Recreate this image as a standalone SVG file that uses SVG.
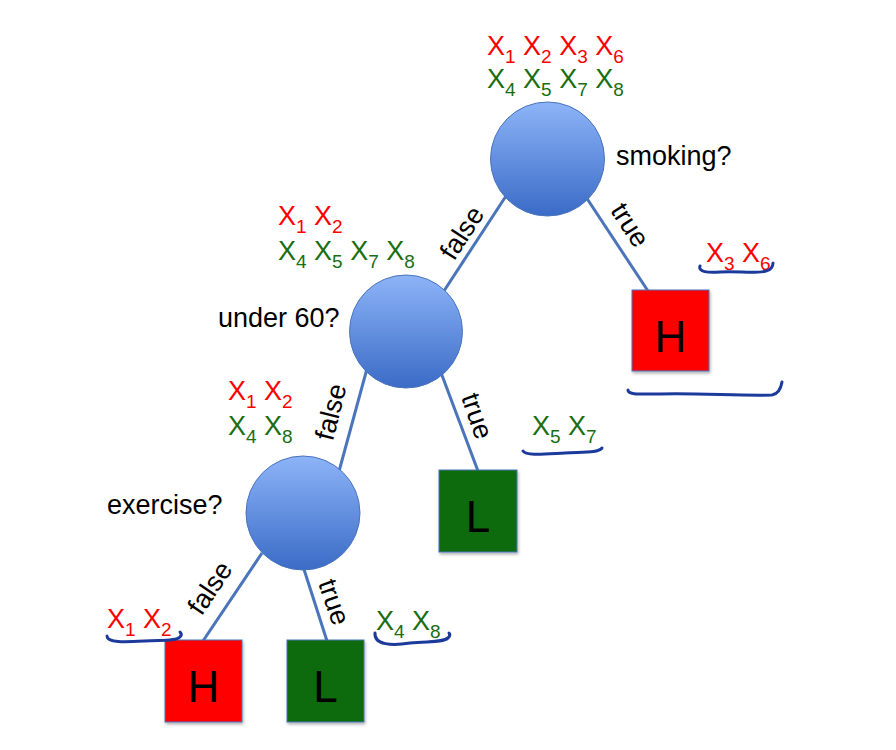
<svg xmlns="http://www.w3.org/2000/svg" width="896" height="750" viewBox="0 0 896 750">
<defs>
<linearGradient id="ball" x1="0" y1="0" x2="0" y2="1">
<stop offset="0" stop-color="#8db4f8"/>
<stop offset="1" stop-color="#3a6bc6"/>
</linearGradient>
<filter id="sh" x="-20%" y="-20%" width="150%" height="150%">
<feDropShadow dx="1" dy="2" stdDeviation="1.5" flood-color="#000" flood-opacity="0.3"/>
</filter>
<style>
.edge{stroke:#4a75bb;stroke-width:3;fill:none}
.ball{fill:url(#ball);stroke:#4a74bd;stroke-width:1}
.sq{stroke:#4a74bd;stroke-width:1}
.lab{font-family:"Liberation Sans",Arial,sans-serif;font-size:27px;fill:#000}
.el{font-family:"Liberation Sans",Arial,sans-serif;font-size:27px;fill:#000;text-anchor:middle;dominant-baseline:central}
.leaf{font-family:"Liberation Sans",Arial,sans-serif;font-size:44px;fill:#000;text-anchor:middle}
.x{font-family:"Liberation Sans",Arial,sans-serif;font-size:27px}
.s{font-size:19px}
.r{fill:#ff0000}
.g{fill:#1a6e12}
.brace{stroke:#1c3a9c;stroke-width:3;fill:none;stroke-linecap:round;stroke-linejoin:round}
</style>
</defs>
<rect width="896" height="750" fill="#fff"/>
<g id="connectors">
<line class="edge" x1="584" y1="194" x2="648" y2="291"/>
<line class="edge" x1="506" y1="196" x2="440" y2="297"/>
<line class="edge" x1="440" y1="370" x2="478" y2="471"/>
<line class="edge" x1="368" y1="365" x2="338" y2="475"/>
<line class="edge" x1="262" y1="553" x2="203" y2="641"/>
<line class="edge" x1="301" y1="560" x2="327" y2="641"/>
<text class="el" transform="translate(462,233) rotate(-57)">false</text>
<text class="el" transform="translate(630,225) rotate(57)">true</text>
<text class="el" transform="translate(331,412) rotate(-76)">false</text>
<text class="el" transform="translate(477,416) rotate(71)">true</text>
<text class="el" transform="translate(210,588) rotate(-56)">false</text>
<text class="el" transform="translate(334,602) rotate(71)">true</text>
</g>
<g id="node-smoking">
<circle class="ball" cx="547.5" cy="159" r="57"/>
<text class="lab" x="616" y="165">smoking?</text>
<text class="x r" x="487" y="55">X<tspan class="s" dy="8">1</tspan><tspan dy="-8"> X</tspan><tspan class="s" dy="8">2</tspan><tspan dy="-8"> X</tspan><tspan class="s" dy="8">3</tspan><tspan dy="-8"> X</tspan><tspan class="s" dy="8">6</tspan></text>
<text class="x g" x="487" y="88">X<tspan class="s" dy="8">4</tspan><tspan dy="-8"> X</tspan><tspan class="s" dy="8">5</tspan><tspan dy="-8"> X</tspan><tspan class="s" dy="8">7</tspan><tspan dy="-8"> X</tspan><tspan class="s" dy="8">8</tspan></text>
</g>
<g id="node-under60">
<circle class="ball" cx="406" cy="331.5" r="56.5"/>
<text class="lab" x="218" y="327">under 60?</text>
<text class="x r" x="278" y="225">X<tspan class="s" dy="8">1</tspan><tspan dy="-8"> X</tspan><tspan class="s" dy="8">2</tspan></text>
<text class="x g" x="278" y="260">X<tspan class="s" dy="8">4</tspan><tspan dy="-8"> X</tspan><tspan class="s" dy="8">5</tspan><tspan dy="-8"> X</tspan><tspan class="s" dy="8">7</tspan><tspan dy="-8"> X</tspan><tspan class="s" dy="8">8</tspan></text>
</g>
<g id="node-exercise">
<circle class="ball" cx="303" cy="513" r="57"/>
<text class="lab" x="107" y="514">exercise?</text>
<text class="x r" x="228" y="400">X<tspan class="s" dy="8">1</tspan><tspan dy="-8"> X</tspan><tspan class="s" dy="8">2</tspan></text>
<text class="x g" x="228" y="435">X<tspan class="s" dy="8">4</tspan><tspan dy="-8"> X</tspan><tspan class="s" dy="8">8</tspan></text>
</g>
<g id="leaf-H-right">
<rect class="sq" x="632" y="290" width="77" height="81" fill="#ff0000" filter="url(#sh)"/>
<text class="leaf" x="670.5" y="352">H</text>
<text class="x r" x="706" y="262">X<tspan class="s" dy="8">3</tspan><tspan dy="-8"> X</tspan><tspan class="s" dy="8">6</tspan></text>
<path class="brace" d="M700,266 C698,272 708,273 720,272 C740,271 755,274 766,271 C771,270 773,266 773,263"/>
<path class="brace" d="M628,390 C628,395 640,394 660,394 C700,393 740,396 772,395 C778,394 781,388 782,382"/>
</g>
<g id="leaf-L-middle">
<rect class="sq" x="439" y="470" width="78" height="82" fill="#0f6a0a" filter="url(#sh)"/>
<text class="leaf" x="478" y="532">L</text>
<text class="x g" x="532" y="435">X<tspan class="s" dy="8">5</tspan><tspan dy="-8"> X</tspan><tspan class="s" dy="8">7</tspan></text>
<path class="brace" d="M523,451 C526,456 545,454 565,453 C585,452 598,453 602,448"/>
</g>
<g id="leaf-H-bottom">
<rect class="sq" x="165" y="640" width="77" height="82" fill="#ff0000" filter="url(#sh)"/>
<text class="leaf" x="203.5" y="702">H</text>
<text class="x r" x="107" y="628">X<tspan class="s" dy="8">1</tspan><tspan dy="-8"> X</tspan><tspan class="s" dy="8">2</tspan></text>
<path class="brace" d="M107,636 C107,643 125,642 145,641 C165,640 176,641 180,637 C182,635 181,633 180,632"/>
</g>
<g id="leaf-L-bottom">
<rect class="sq" x="287" y="640" width="77" height="82" fill="#0f6a0a" filter="url(#sh)"/>
<text class="leaf" x="325.5" y="702">L</text>
<text class="x g" x="376" y="630">X<tspan class="s" dy="8">4</tspan><tspan dy="-8"> X</tspan><tspan class="s" dy="8">8</tspan></text>
<path class="brace" d="M375,633 C374,645 392,646 410,643 C428,641 442,643 448,638 C450,636 450,634 449,633"/>
</g>
</svg>
